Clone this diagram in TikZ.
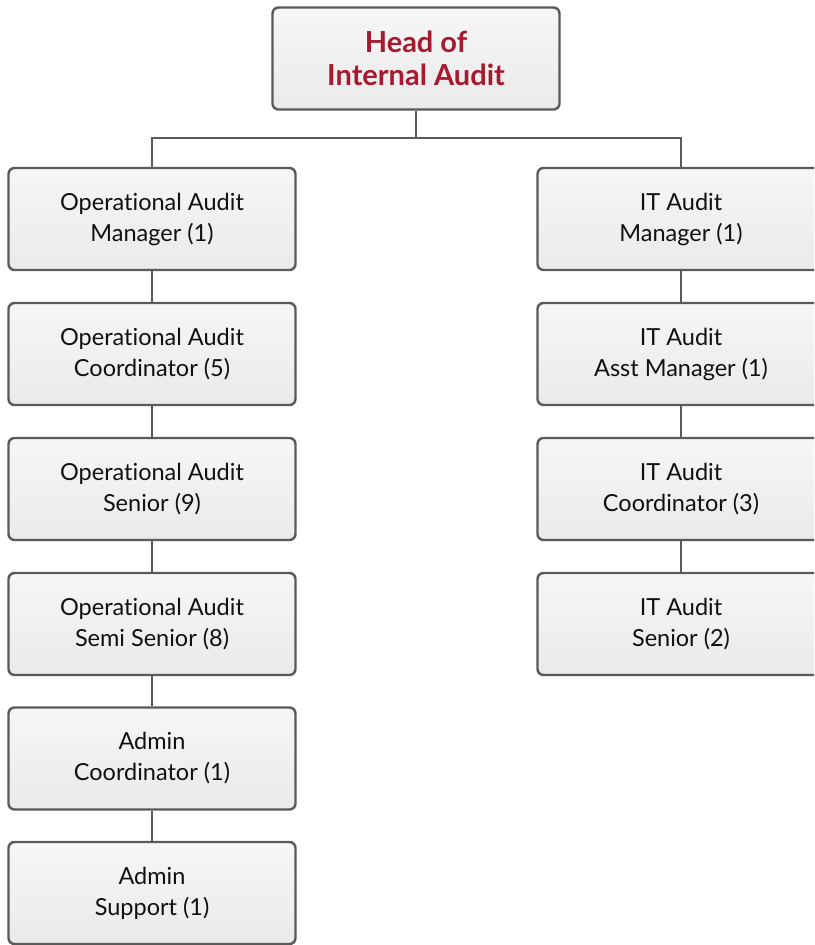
\documentclass[tikz,border=0pt]{standalone}
\usepackage{fontspec}
\setmainfont{Lato}[Ligatures={NoCommon,TeX}]
\definecolor{boxline}{HTML}{5A5A5A}
\definecolor{headred}{HTML}{A6192E}
\definecolor{boxtop}{HTML}{F6F6F6}
\definecolor{boxbot}{HTML}{EAEAEA}
\definecolor{txt}{HTML}{111111}
\begin{document}
\begin{tikzpicture}[x=1pt,y=-1pt,
  box/.style={draw=boxline, line width=2.4pt, rounded corners=6pt,
    top color=boxtop, bottom color=boxbot, minimum width=287pt, minimum height=102pt,
    align=center, text=txt, font=\fontsize{23.5}{31}\selectfont, inner sep=0pt},
  headbox/.style={box, text=headred, font=\bfseries\fontsize{29}{33}\selectfont},
  link/.style={draw=boxline, line width=2.4pt}]
\clip (0,0) rectangle (814,945);
\node[headbox] (head) at (416,58.5) {Head of\\Internal Audit};
\node[box] (l1) at (152,219) {Operational Audit\\Manager (1)};
\node[box] (l2) at (152,354) {Operational Audit\\Coordinator (5)};
\node[box] (l3) at (152,489) {Operational Audit\\Senior (9)};
\node[box] (l4) at (152,624) {Operational Audit\\Semi Senior (8)};
\node[box] (l5) at (152,758.5) {Admin\\Coordinator (1)};
\node[box] (l6) at (152,893) {Admin\\Support (1)};
\node[box] (r1) at (681,219) {IT Audit\\Manager (1)};
\node[box] (r2) at (681,354) {IT Audit\\Asst Manager (1)};
\node[box] (r3) at (681,489) {IT Audit\\Coordinator (3)};
\node[box] (r4) at (681,624) {IT Audit\\Senior (2)};
\coordinate (bus) at (416,138);
\draw[link] (head.south) -- (bus);
\draw[link] (bus) -| (l1.north);
\draw[link] (bus) -| (r1.north);
\draw[link] (l1) -- (l2);
\draw[link] (l2) -- (l3);
\draw[link] (l3) -- (l4);
\draw[link] (l4) -- (l5);
\draw[link] (l5) -- (l6);
\draw[link] (r1) -- (r2);
\draw[link] (r2) -- (r3);
\draw[link] (r3) -- (r4);
\end{tikzpicture}
\end{document}
